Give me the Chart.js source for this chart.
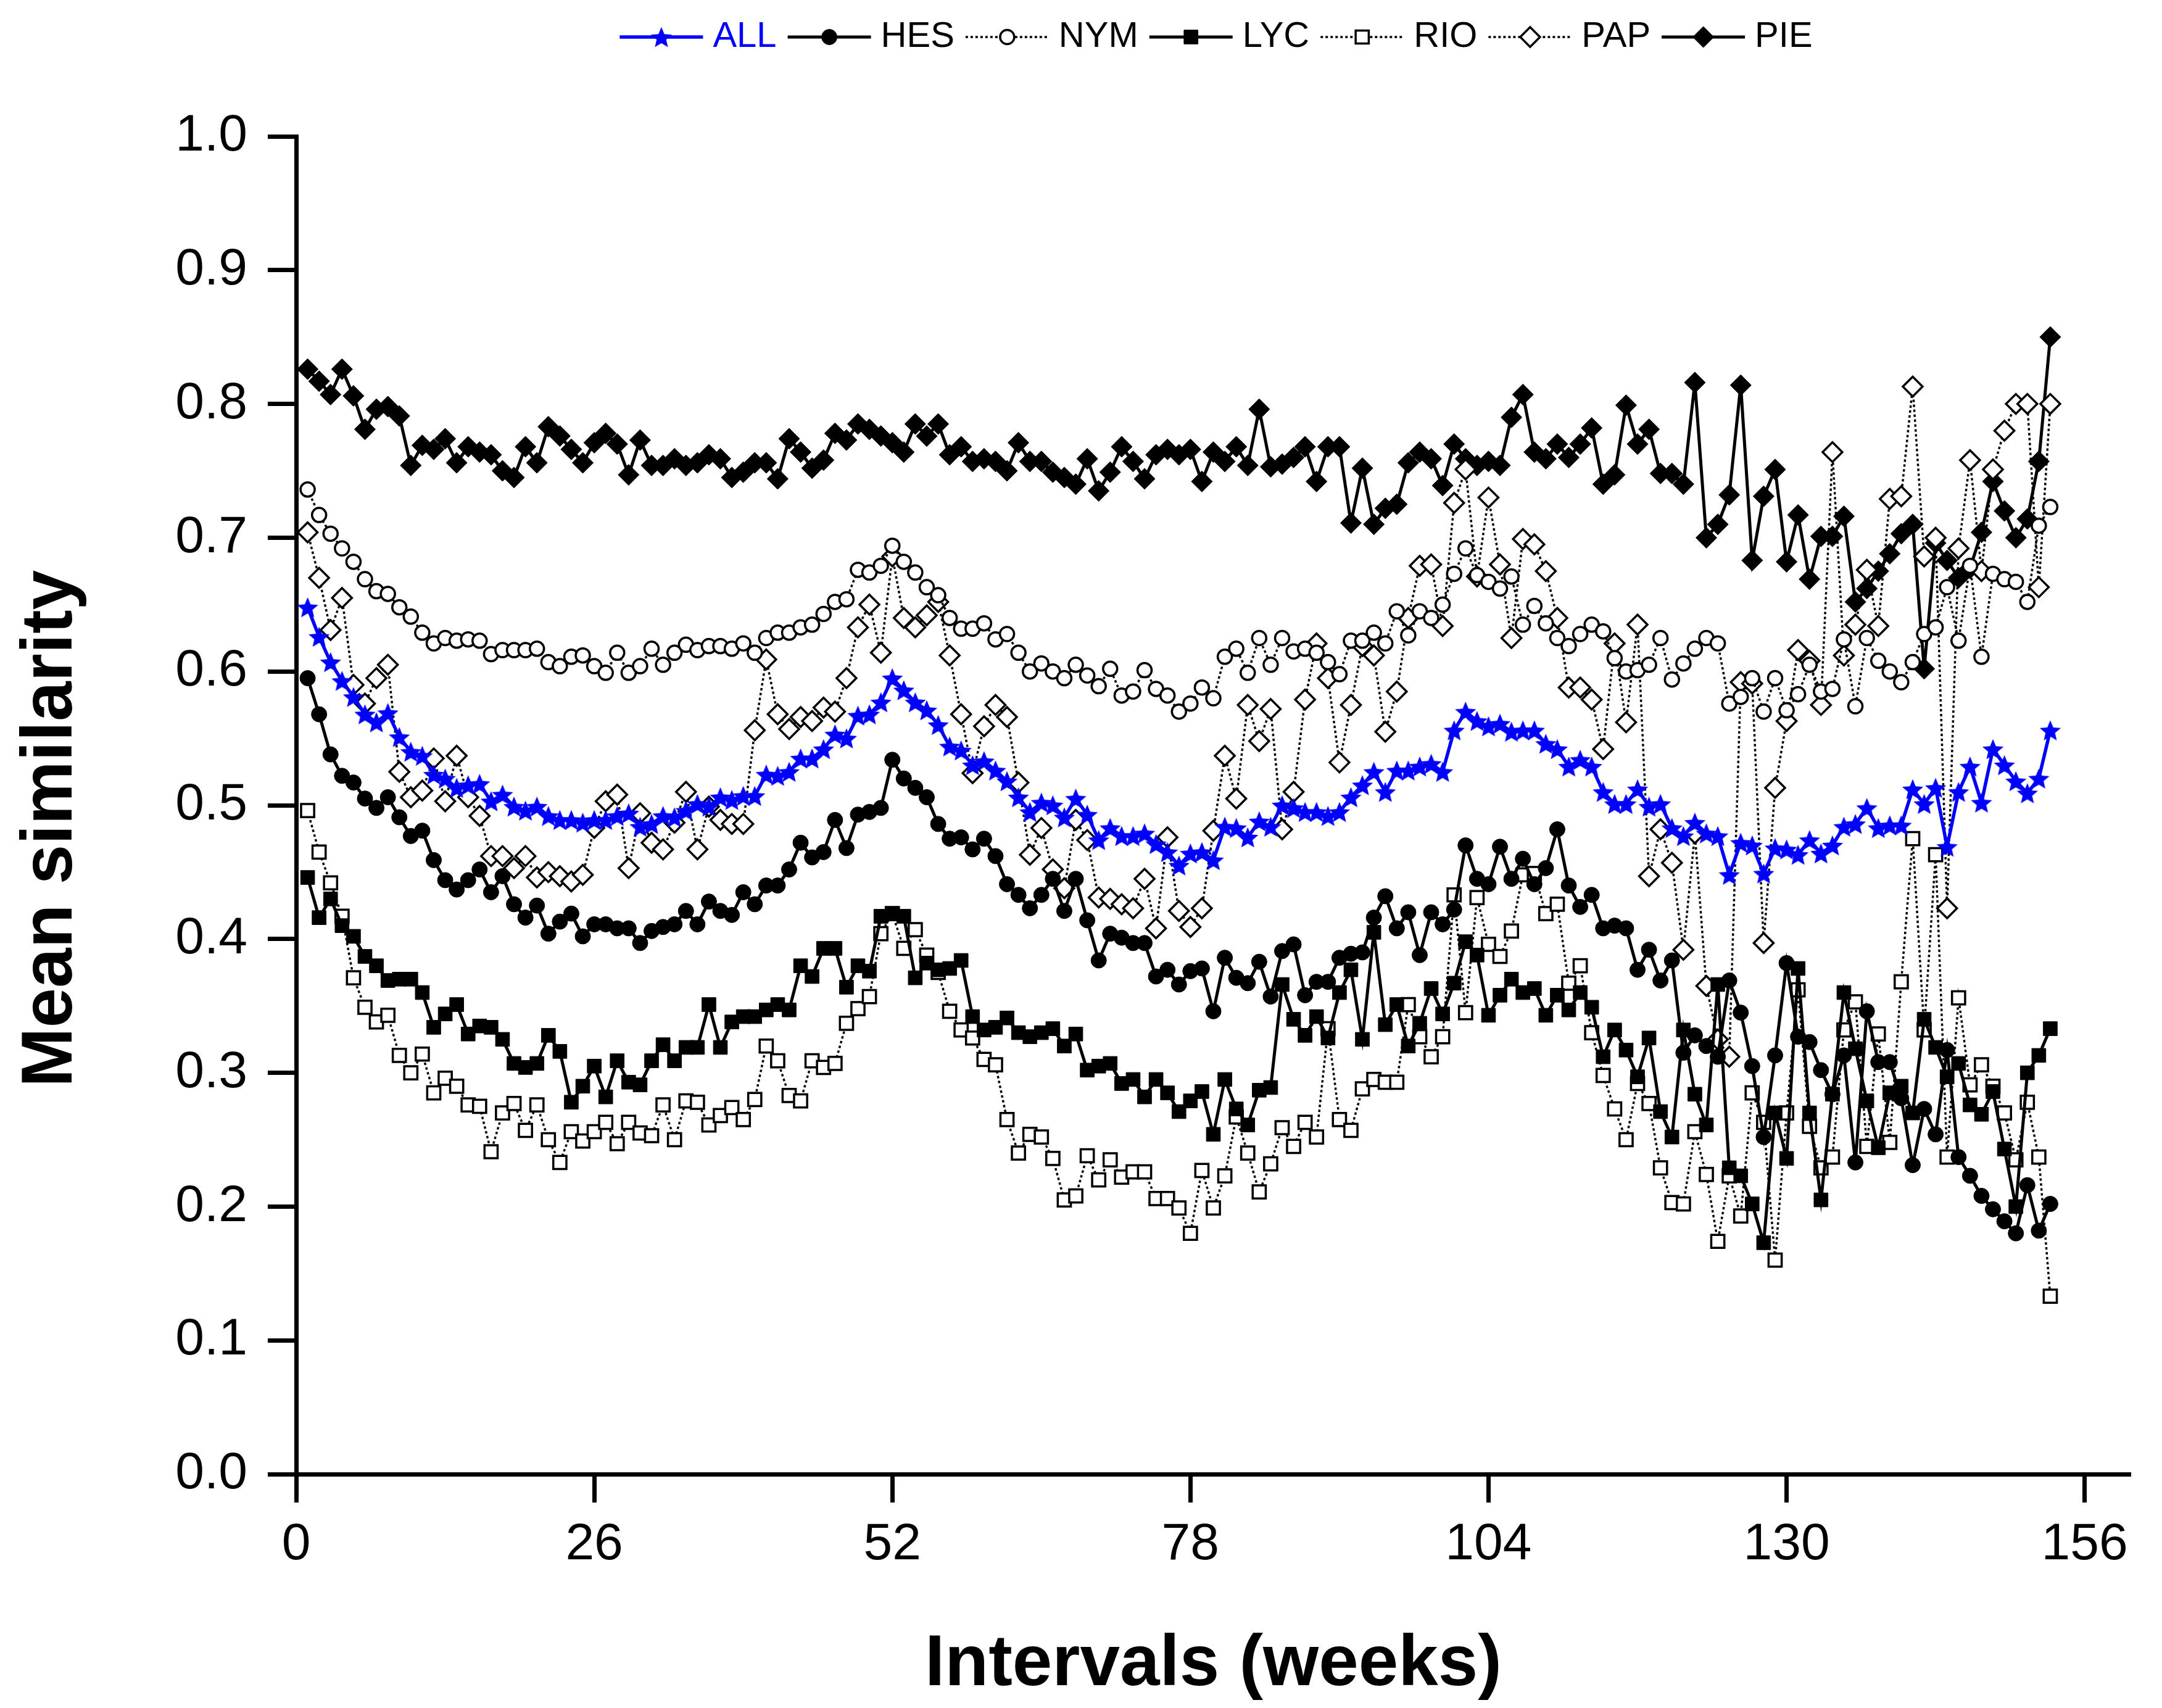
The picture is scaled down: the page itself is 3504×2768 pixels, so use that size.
<!DOCTYPE html>
<html lang="en">
<head>
<meta charset="UTF-8">
<title>Mean similarity by interval</title>
<script src="https://cdn.jsdelivr.net/npm/chart.js"></script>
<style>
  html, body { margin: 0; padding: 0; background: #fff; }
  #chart { display: block; }
</style>
</head>
<body>
<canvas id="chart" width="3504" height="2768"></canvas>
<script>
// x positions: interval length in weeks
const weeks = Array.from({ length: 153 }, (_, i) => i + 1);
const xTicks = [0, 26, 52, 78, 104, 130, 156];
const yTicks = [0, 0.1, 0.2, 0.3, 0.4, 0.5, 0.6, 0.7, 0.8, 0.9, 1.0];

const ALL = [
  0.648,0.626,0.607,0.593,0.581,0.568,0.562,0.569,0.551,0.540,
  0.537,0.523,0.520,0.513,0.515,0.516,0.503,0.508,0.499,0.496,
  0.499,0.492,0.489,0.489,0.487,0.489,0.489,0.492,0.494,0.484,
  0.486,0.492,0.491,0.496,0.501,0.499,0.506,0.504,0.507,0.507,
  0.523,0.522,0.525,0.535,0.535,0.542,0.553,0.550,0.567,0.568,
  0.577,0.595,0.586,0.577,0.571,0.560,0.544,0.541,0.530,0.533,
  0.526,0.518,0.506,0.495,0.502,0.500,0.491,0.505,0.493,0.474,
  0.483,0.477,0.477,0.479,0.471,0.465,0.455,0.464,0.465,0.459,
  0.484,0.483,0.476,0.488,0.484,0.500,0.498,0.495,0.495,0.492,
  0.495,0.506,0.515,0.525,0.510,0.526,0.526,0.529,0.531,0.525,
  0.556,0.570,0.563,0.559,0.561,0.555,0.556,0.556,0.546,0.542,
  0.529,0.534,0.529,0.510,0.501,0.501,0.512,0.499,0.501,0.483,
  0.477,0.487,0.479,0.477,0.448,0.472,0.470,0.449,0.468,0.467,
  0.463,0.474,0.464,0.470,0.484,0.486,0.498,0.483,0.485,0.485,
  0.512,0.501,0.513,0.469,0.510,0.529,0.502,0.542,0.530,0.518,
  0.509,0.520,0.556
];
const HES = [
  0.595,0.568,0.538,0.522,0.517,0.505,0.498,0.506,0.491,0.477,
  0.481,0.459,0.444,0.437,0.444,0.452,0.435,0.447,0.426,0.416,
  0.425,0.404,0.413,0.419,0.402,0.411,0.411,0.408,0.408,0.397,
  0.406,0.409,0.411,0.421,0.411,0.428,0.421,0.418,0.435,0.426,
  0.440,0.440,0.452,0.472,0.461,0.465,0.489,0.468,0.493,0.495,
  0.498,0.534,0.520,0.513,0.506,0.486,0.475,0.476,0.467,0.475,
  0.462,0.441,0.433,0.423,0.433,0.445,0.421,0.445,0.414,0.384,
  0.404,0.401,0.397,0.397,0.372,0.377,0.366,0.376,0.378,0.346,
  0.386,0.371,0.367,0.383,0.357,0.391,0.396,0.358,0.368,0.368,
  0.386,0.389,0.390,0.416,0.432,0.408,0.420,0.388,0.420,0.411,
  0.422,0.470,0.445,0.441,0.469,0.445,0.460,0.441,0.453,0.482,
  0.440,0.424,0.433,0.408,0.410,0.408,0.377,0.392,0.369,0.384,
  0.315,0.328,0.320,0.312,0.369,0.345,0.305,0.252,0.313,0.382,
  0.327,0.323,0.302,0.284,0.313,0.233,0.346,0.308,0.308,0.281,
  0.231,0.273,0.254,0.317,0.237,0.223,0.208,0.198,0.189,0.180,
  0.216,0.182,0.202
];
const NYM = [
  0.736,0.717,0.703,0.692,0.682,0.669,0.660,0.658,0.648,0.641,
  0.629,0.621,0.625,0.623,0.624,0.623,0.613,0.616,0.616,0.616,
  0.617,0.607,0.604,0.611,0.612,0.604,0.599,0.614,0.599,0.604,
  0.617,0.605,0.614,0.620,0.616,0.619,0.619,0.617,0.621,0.614,
  0.625,0.629,0.629,0.633,0.635,0.643,0.652,0.654,0.676,0.674,
  0.679,0.694,0.682,0.674,0.663,0.657,0.640,0.632,0.632,0.636,
  0.624,0.628,0.614,0.600,0.606,0.600,0.595,0.605,0.597,0.589,
  0.602,0.582,0.585,0.601,0.587,0.582,0.570,0.576,0.588,0.580,
  0.611,0.617,0.599,0.625,0.605,0.625,0.615,0.617,0.614,0.607,
  0.598,0.623,0.623,0.629,0.621,0.645,0.627,0.645,0.640,0.650,
  0.673,0.692,0.672,0.667,0.662,0.671,0.635,0.649,0.636,0.625,
  0.619,0.628,0.635,0.630,0.610,0.600,0.601,0.605,0.625,0.594,
  0.606,0.617,0.625,0.621,0.576,0.581,0.595,0.570,0.595,0.571,
  0.583,0.605,0.585,0.587,0.624,0.574,0.625,0.608,0.600,0.592,
  0.607,0.628,0.633,0.663,0.623,0.679,0.611,0.673,0.669,0.667,
  0.652,0.709,0.723
];
const LYC = [
  0.446,0.416,0.430,0.410,0.402,0.387,0.380,0.369,0.370,0.370,
  0.360,0.334,0.344,0.351,0.329,0.335,0.334,0.325,0.307,0.304,
  0.307,0.328,0.316,0.278,0.290,0.305,0.282,0.309,0.293,0.291,
  0.309,0.321,0.309,0.319,0.319,0.351,0.319,0.338,0.342,0.342,
  0.347,0.351,0.347,0.380,0.372,0.393,0.393,0.364,0.380,0.376,
  0.417,0.419,0.417,0.371,0.382,0.377,0.378,0.384,0.342,0.332,
  0.334,0.341,0.330,0.327,0.330,0.333,0.320,0.329,0.302,0.305,
  0.307,0.292,0.295,0.282,0.295,0.285,0.271,0.279,0.286,0.254,
  0.295,0.273,0.261,0.287,0.289,0.366,0.340,0.328,0.342,0.326,
  0.360,0.377,0.325,0.405,0.336,0.351,0.320,0.337,0.363,0.344,
  0.367,0.398,0.388,0.343,0.358,0.370,0.360,0.363,0.343,0.358,
  0.347,0.360,0.349,0.312,0.332,0.317,0.297,0.326,0.271,0.252,
  0.332,0.284,0.261,0.366,0.229,0.223,0.202,0.173,0.270,0.236,
  0.378,0.270,0.205,0.284,0.360,0.318,0.279,0.244,0.285,0.290,
  0.270,0.340,0.319,0.297,0.307,0.276,0.269,0.286,0.243,0.200,
  0.300,0.313,0.333
];
const RIO = [
  0.496,0.465,0.442,0.417,0.371,0.349,0.338,0.343,0.313,0.300,
  0.314,0.285,0.296,0.290,0.276,0.275,0.241,0.270,0.277,0.257,
  0.276,0.250,0.233,0.256,0.249,0.256,0.263,0.247,0.263,0.255,
  0.253,0.276,0.250,0.279,0.278,0.261,0.268,0.274,0.265,0.280,
  0.320,0.309,0.283,0.279,0.309,0.304,0.307,0.337,0.348,0.357,
  0.404,0.419,0.393,0.407,0.388,0.375,0.346,0.332,0.326,0.310,
  0.306,0.265,0.240,0.254,0.252,0.236,0.205,0.208,0.238,0.220,
  0.235,0.222,0.226,0.226,0.206,0.206,0.199,0.180,0.227,0.199,
  0.223,0.267,0.240,0.211,0.232,0.259,0.245,0.263,0.252,0.333,
  0.265,0.257,0.288,0.295,0.293,0.293,0.351,0.327,0.312,0.327,
  0.433,0.345,0.431,0.396,0.387,0.406,0.448,0.449,0.419,0.426,
  0.367,0.380,0.330,0.298,0.273,0.250,0.292,0.277,0.229,0.203,
  0.202,0.256,0.224,0.174,0.223,0.193,0.285,0.263,0.160,0.270,
  0.362,0.260,0.229,0.237,0.332,0.353,0.245,0.329,0.248,0.368,
  0.475,0.332,0.463,0.237,0.356,0.291,0.306,0.290,0.270,0.235,
  0.278,0.237,0.133
];
const PAP = [
  0.704,0.670,0.631,0.655,0.590,0.576,0.595,0.605,0.525,0.506,
  0.511,0.535,0.503,0.537,0.506,0.492,0.462,0.462,0.453,0.462,
  0.446,0.450,0.447,0.443,0.448,0.483,0.503,0.508,0.453,0.494,
  0.472,0.467,0.487,0.510,0.467,0.499,0.489,0.486,0.486,0.556,
  0.609,0.568,0.557,0.566,0.563,0.573,0.570,0.595,0.633,0.650,
  0.614,0.686,0.640,0.633,0.642,0.652,0.612,0.568,0.524,0.559,
  0.575,0.566,0.517,0.463,0.483,0.452,0.438,0.489,0.474,0.431,
  0.430,0.426,0.423,0.445,0.408,0.476,0.421,0.409,0.423,0.481,
  0.537,0.505,0.575,0.548,0.572,0.482,0.510,0.579,0.621,0.595,
  0.532,0.575,0.619,0.612,0.555,0.585,0.640,0.679,0.680,0.634,
  0.726,0.751,0.671,0.730,0.680,0.625,0.699,0.695,0.675,0.640,
  0.588,0.588,0.579,0.542,0.621,0.562,0.635,0.447,0.482,0.457,
  0.392,0.479,0.365,0.325,0.312,0.592,0.591,0.397,0.513,0.563,
  0.616,0.608,0.575,0.764,0.612,0.635,0.676,0.634,0.729,0.731,
  0.813,0.686,0.700,0.423,0.692,0.758,0.675,0.751,0.780,0.800,
  0.800,0.663,0.800
];
const PIE = [
  0.826,0.817,0.807,0.826,0.806,0.781,0.796,0.798,0.791,0.754,
  0.769,0.766,0.774,0.756,0.768,0.764,0.762,0.750,0.745,0.768,
  0.756,0.783,0.776,0.766,0.756,0.771,0.778,0.770,0.747,0.773,
  0.754,0.754,0.759,0.754,0.756,0.762,0.759,0.745,0.749,0.756,
  0.756,0.744,0.774,0.764,0.752,0.758,0.778,0.773,0.785,0.781,
  0.776,0.771,0.764,0.785,0.776,0.785,0.762,0.768,0.757,0.759,
  0.757,0.750,0.771,0.757,0.757,0.749,0.745,0.740,0.759,0.735,
  0.749,0.768,0.757,0.744,0.762,0.766,0.762,0.766,0.742,0.764,
  0.757,0.768,0.754,0.796,0.753,0.755,0.760,0.768,0.742,0.768,
  0.768,0.711,0.752,0.710,0.722,0.725,0.756,0.764,0.759,0.739,
  0.770,0.759,0.754,0.757,0.754,0.790,0.807,0.764,0.759,0.770,
  0.760,0.770,0.782,0.740,0.747,0.799,0.770,0.781,0.748,0.748,
  0.740,0.816,0.700,0.710,0.732,0.814,0.683,0.731,0.751,0.682,
  0.717,0.669,0.701,0.701,0.716,0.652,0.662,0.675,0.688,0.703,
  0.710,0.602,0.696,0.683,0.670,0.677,0.704,0.742,0.720,0.700,
  0.714,0.757,0.850
];

const BLUE = '#0000ff';
const FONT = '"Liberation Sans", Arial, Helvetica, sans-serif';

// filled five-point star, used as the ALL marker
function makeStar(r, color) {
  const s = Math.ceil(r * 2 + 4);
  const c = document.createElement('canvas');
  c.width = s; c.height = s;
  const g = c.getContext('2d');
  g.translate(s / 2, s / 2 + r * 0.1);
  g.beginPath();
  for (let i = 0; i < 10; i++) {
    const rr = i % 2 ? r * 0.45 : r;
    const a = -Math.PI / 2 + i * Math.PI / 5;
    g.lineTo(Math.cos(a) * rr, Math.sin(a) * rr);
  }
  g.closePath();
  g.fillStyle = color;
  g.fill();
  return c;
}
const star = makeStar(18, BLUE);

const solid = { borderColor: '#000', borderWidth: 5 };
const dotted = { borderColor: '#000', borderWidth: 3.5, borderDash: [4, 4] };
const filled = { pointBackgroundColor: '#000', pointBorderColor: '#000', pointBorderWidth: 1 };
const hollow = { pointBackgroundColor: '#fff', pointBorderColor: '#000', pointBorderWidth: 3.5 };

const datasets = [
  { label: 'ALL', data: ALL, borderColor: BLUE, borderWidth: 5.5, pointStyle: star, pointRadius: 18, pointBackgroundColor: BLUE, pointBorderColor: BLUE },
  Object.assign({ label: 'HES', data: HES, pointStyle: 'circle', pointRadius: 12.5 }, solid, filled),
  Object.assign({ label: 'NYM', data: NYM, pointStyle: 'circle', pointRadius: 11.5 }, dotted, hollow),
  Object.assign({ label: 'LYC', data: LYC, pointStyle: 'rect', pointRadius: 16 }, solid, filled),
  Object.assign({ label: 'RIO', data: RIO, pointStyle: 'rect', pointRadius: 15 }, dotted, hollow),
  Object.assign({ label: 'PAP', data: PAP, pointStyle: 'rectRot', pointRadius: 16 }, dotted, hollow),
  Object.assign({ label: 'PIE', data: PIE, pointStyle: 'rectRot', pointRadius: 17 }, solid, filled)
];
datasets.forEach(d => { d.tension = 0; d.fill = false; });

function drawMarker(ctx, ds, x, y) {
  const st = ds.pointStyle, r = ds.pointRadius;
  if (typeof st !== 'string') {
    ctx.drawImage(st, x - st.width / 2, y - st.height / 2);
    return;
  }
  ctx.save();
  ctx.fillStyle = ds.pointBackgroundColor;
  ctx.strokeStyle = ds.pointBorderColor;
  ctx.lineWidth = ds.pointBorderWidth;
  ctx.setLineDash([]);
  ctx.beginPath();
  if (st === 'circle') ctx.arc(x, y, r, 0, Math.PI * 2);
  else if (st === 'rect') { const h = r * Math.SQRT1_2; ctx.rect(x - h, y - h, 2 * h, 2 * h); }
  else { ctx.moveTo(x - r, y); ctx.lineTo(x, y - r); ctx.lineTo(x + r, y); ctx.lineTo(x, y + r); ctx.closePath(); }
  ctx.fill();
  ctx.stroke();
  ctx.restore();
}

// legend across the top and the two axis titles
const decor = {
  id: 'decor',
  afterDraw(chart) {
    const ctx = chart.ctx;
    const lineLen = 135, gapText = 16, gapItem = 18, ly = 60;
    ctx.save();
    ctx.font = '58px ' + FONT;
    ctx.textBaseline = 'middle';
    ctx.textAlign = 'left';
    const sets = chart.data.datasets;
    let total = gapItem * (sets.length - 1);
    sets.forEach(ds => { total += lineLen + gapText + ctx.measureText(ds.label).width; });
    let x = 1971 - total / 2;
    sets.forEach(ds => {
      ctx.save();
      ctx.strokeStyle = ds.borderColor;
      ctx.lineWidth = ds.borderWidth;
      ctx.setLineDash(ds.borderDash || []);
      ctx.beginPath();
      ctx.moveTo(x, ly);
      ctx.lineTo(x + lineLen, ly);
      ctx.stroke();
      ctx.restore();
      drawMarker(ctx, ds, x + lineLen / 2, ly);
      const w = ctx.measureText(ds.label).width;
      ctx.fillStyle = ds.label === 'ALL' ? BLUE : '#000';
      ctx.fillText(ds.label, x + lineLen + gapText, ly);
      x += lineLen + gapText + w + gapItem;
    });

    ctx.fillStyle = '#000';
    ctx.font = 'bold 116px ' + FONT;
    ctx.textAlign = 'center';
    ctx.textBaseline = 'alphabetic';
    ctx.fillText('Intervals (weeks)', (chart.chartArea.left + chart.chartArea.right) / 2, 2731);
    ctx.translate(116, 1343);
    ctx.rotate(-Math.PI / 2);
    ctx.fillText('Mean similarity', 0, 0);
    ctx.restore();
  }
};

const axisGrid = { drawOnChartArea: false, drawTicks: true, tickLength: 46, tickWidth: 7, tickColor: '#000' };
const axisBorder = { display: true, color: '#000', width: 7 };

new Chart(document.getElementById('chart'), {
  type: 'line',
  data: { labels: weeks, datasets: datasets },
  options: {
    responsive: false,
    devicePixelRatio: 1,
    animation: false,
    layout: { padding: { top: 221, right: 51, left: 0, bottom: 0 } },
    plugins: { legend: { display: false }, tooltip: { enabled: false } },
    scales: {
      x: {
        type: 'linear',
        min: 0,
        max: 160,
        grid: axisGrid,
        border: axisBorder,
        afterBuildTicks: s => { s.ticks = xTicks.map(v => ({ value: v })); },
        afterFit: s => { s.height = 379; },
        ticks: { color: '#000', font: { family: FONT, size: 84 }, padding: 18, maxRotation: 0, autoSkip: false }
      },
      y: {
        min: 0,
        max: 1,
        grid: axisGrid,
        border: axisBorder,
        afterBuildTicks: s => { s.ticks = yTicks.map(v => ({ value: v })); },
        afterFit: s => { s.width = 480; },
        ticks: { color: '#000', font: { family: FONT, size: 84 }, padding: 33, callback: v => Number(v).toFixed(1) }
      }
    }
  },
  plugins: [decor]
});
</script>
</body>
</html>
